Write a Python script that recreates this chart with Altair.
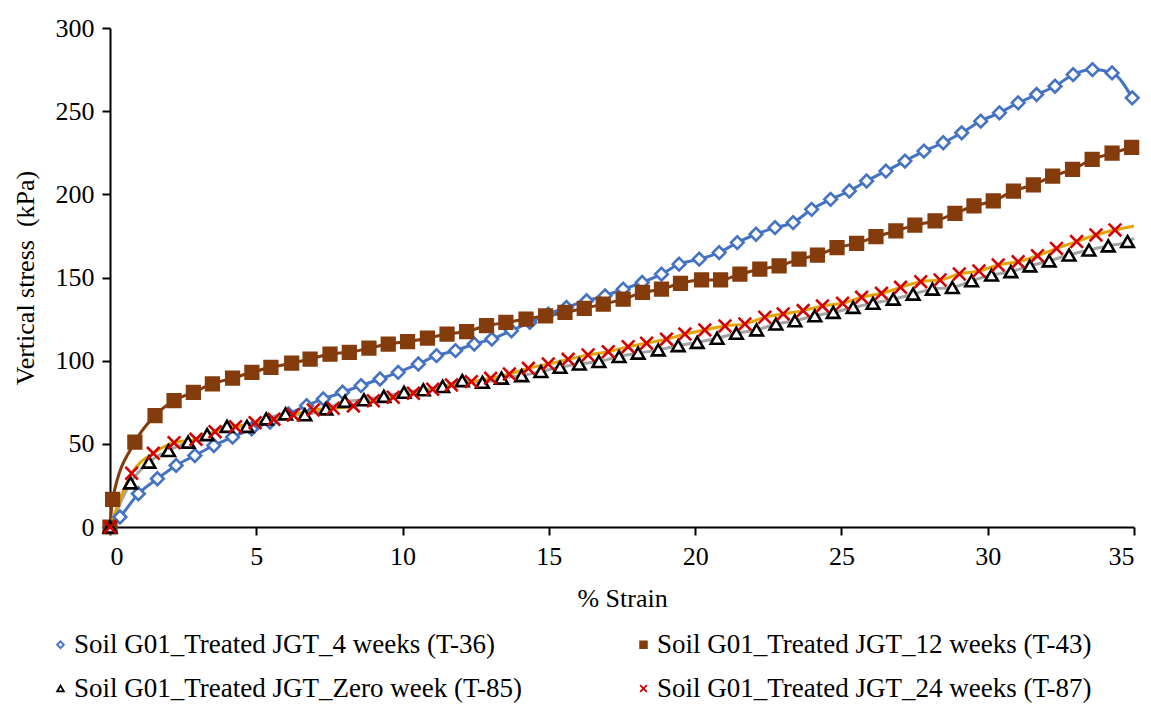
import altair as alt
import pandas as pd

series_names = [
    "Soil G01_Treated JGT_4 weeks (T-36)",
    "Soil G01_Treated JGT_12 weeks (T-43)",
    "Soil G01_Treated JGT_Zero week (T-85)",
    "Soil G01_Treated JGT_24 weeks (T-87)",
]
# legend lays entries out column by column: this order gives rows T-36/T-43 and T-85/T-87
legend_order = [series_names[0], series_names[2], series_names[1], series_names[3]]

# T-36 (blue diamonds)
t36_x = [0, 0.34, 0.97, 1.62, 2.26, 2.9, 3.55, 4.19, 4.84, 5.47, 6.1, 6.72, 7.29, 7.95, 8.58,
         9.23, 9.85, 10.54, 11.16, 11.81, 12.45, 13.05, 13.72, 14.35, 14.98, 15.6, 16.29, 16.92,
         17.54, 18.19, 18.85, 19.45, 20.14, 20.82, 21.44, 22.08, 22.73, 23.35, 23.98, 24.63,
         25.27, 25.86, 26.52, 27.17, 27.82, 28.48, 29.11, 29.76, 30.4, 31.04, 31.67, 32.3,
         32.92, 33.58, 34.25, 34.94]
t36_y = [0, 6, 20, 29, 37, 43, 49, 54, 59, 63, 68, 73, 77, 81, 85, 89, 93, 98, 103, 106, 110,
         113, 118, 123, 128, 132, 136, 139, 143, 147, 152, 158, 161, 165, 171, 176, 180, 183,
         191, 197, 202, 208, 214, 220, 226, 231, 237, 244, 249, 255, 260, 265, 272, 275, 273, 258]

# T-43 (brown squares)
t43_x = [0, 0.09, 0.85, 1.54, 2.19, 2.85, 3.5, 4.19, 4.85, 5.5, 6.21, 6.84, 7.52, 8.18, 8.85,
         9.51, 10.17, 10.85, 11.52, 12.19, 12.87, 13.53, 14.22, 14.89, 15.55, 16.21, 16.86,
         17.54, 18.2, 18.85, 19.5, 20.22, 20.87, 21.53, 22.21, 22.87, 23.55, 24.18, 24.85,
         25.52, 26.18, 26.86, 27.51, 28.2, 28.88, 29.53, 30.19, 30.88, 31.56, 32.22, 32.9,
         33.57, 34.25, 34.92]
t43_y = [0, 16.6, 51, 67, 76, 81, 86, 89.5, 93, 96, 98.5, 101, 104, 105, 107.5, 110, 111.5,
         113.5, 116, 117.5, 121, 123, 125, 127, 129, 131.5, 134, 137, 141, 143, 146.5, 148.5,
         148.5, 152, 155, 157, 161, 163.5, 168, 170.5, 174.5, 178, 181.5, 184, 188.5, 193, 196,
         202, 205.7, 211, 215, 221, 224.7, 228.3]

# T-85 (black open triangles, grey line)
t85_x = [0, 0.7, 1.33, 2.0, 2.67, 3.32, 4.0, 4.68, 5.34, 6.0, 6.66, 7.38, 8.03, 8.68, 9.36,
         10.05, 10.71, 11.37, 12.04, 12.73, 13.38, 14.07, 14.73, 15.38, 16.04, 16.71, 17.4,
         18.05, 18.74, 19.42, 20.07, 20.75, 21.41, 22.1, 22.76, 23.41, 24.09, 24.72, 25.4,
         26.08, 26.77, 27.45, 28.11, 28.79, 29.45, 30.13, 30.79, 31.44, 32.1, 32.78, 33.46,
         34.12, 34.78]
t85_y = [0, 26.5, 39, 46, 51, 55.5, 60.5, 60.5, 65, 68, 67.5, 71, 75.5, 76.5, 78.5, 81, 82.5,
         84.5, 88, 87, 89.5, 91, 93.5, 96, 98, 99.5, 102.5, 104.5, 106.5, 109, 111, 113.5, 116.5,
         118.5, 122, 124, 127, 129, 132, 134.5, 137, 140, 143, 144, 148, 151.5, 153.5, 157, 160,
         163.5, 166.5, 169, 171.6]
t85_line_end_x = 35.0
t85_line_end_y = 173.6

# T-87 (red crosses, gold line)
t87_x = [0, 0.74, 1.48, 2.19, 2.94, 3.59, 4.29, 4.96, 5.6, 6.26, 6.95, 7.63, 8.32, 9.0, 9.68,
         10.37, 11.03, 11.67, 12.35, 13.01, 13.65, 14.3, 14.98, 15.66, 16.34, 17.03, 17.71,
         18.34, 19.02, 19.65, 20.33, 21.02, 21.7, 22.38, 23.01, 23.69, 24.35, 25.04, 25.69,
         26.37, 27.02, 27.71, 28.37, 29.03, 29.7, 30.36, 31.04, 31.7, 32.35, 33.04, 33.7, 34.35]
t87_y = [0, 32.3, 44.3, 50.7, 52.7, 57.3, 60.3, 62.7, 64.8, 67.4, 70.4, 71.4, 72.8, 75.9, 78,
         80.4, 82.8, 85.4, 87.4, 89.4, 92, 95.4, 98, 100.8, 103.4, 105.4, 108.4, 110.5, 112.9,
         116, 118.5, 120.9, 122.1, 126.1, 128.1, 130.1, 132.9, 134.5, 138.1, 140.5, 144.1,
         147.5, 148.5, 152.1, 153.9, 157.5, 159.5, 163.1, 167.5, 171.6, 175.6, 178.6]
t87_line_end_x = 35.0
t87_line_end_y = 181.0

X_PATH = "M-1,-1L1,1M1,-1L-1,1"
# styles in legend_order: T-36, T-85, T-43, T-87
marker_stroke = ["#4472C4", "#000000", "#843C0C", "#D40000"]
marker_fill = ["#FFFFFF", "#FFFFFF", "#843C0C", "transparent"]
marker_shapes = ["diamond", "triangle-up", "square", X_PATH]
line_keys = ["L36", "L43", "L85", "L87"]
line_colors = ["#4472C4", "#843C0C", "#A5A5A5", "#E6A400"]

pts = []
lines = []
for name, key, xs, ys, ext in [
    (series_names[0], line_keys[0], t36_x, t36_y, None),
    (series_names[1], line_keys[1], t43_x, t43_y, None),
    (series_names[2], line_keys[2], t85_x, t85_y, (t85_line_end_x, t85_line_end_y)),
    (series_names[3], line_keys[3], t87_x, t87_y, (t87_line_end_x, t87_line_end_y)),
]:
    for x, y in zip(xs, ys):
        pts.append({"series": name, "strain": x, "stress": y})
        lines.append({"line": key, "strain": x, "stress": y})
    if ext is not None:
        lines.append({"line": key, "strain": ext[0], "stress": ext[1]})

pts_df = pd.DataFrame(pts)
lines_df = pd.DataFrame(lines)

FONT = "Liberation Serif"
FS = 26
LFS = 27

x_enc = alt.X("strain:Q", scale=alt.Scale(domain=[0, 35], nice=False, zero=True),
              axis=alt.Axis(title="% Strain", values=list(range(0, 36, 5)), titlePadding=16))
y_enc = alt.Y("stress:Q", scale=alt.Scale(domain=[0, 300], nice=False),
              axis=alt.Axis(title="Vertical stress\u00a0 (kPa)", values=list(range(0, 301, 50)),
                            titlePadding=17))

line_layer = alt.Chart(lines_df).mark_line(interpolate="monotone", strokeWidth=3).encode(
    x=x_enc, y=y_enc,
    color=alt.Color("line:N", scale=alt.Scale(domain=line_keys, range=line_colors), legend=None),
)

leg = alt.Legend(
    title=None, orient="none", legendX=-63, legendY=603, columns=2, columnPadding=108,
    rowPadding=16, labelFont=FONT, labelFontSize=LFS, labelColor="#000000", labelOffset=0,
    symbolSize=45, symbolStrokeWidth=1.8, padding=0, labelLimit=700,
)

point_layer = alt.Chart(pts_df).mark_point(size=160, strokeWidth=2.6, opacity=1).encode(
    x=x_enc, y=y_enc,
    shape=alt.Shape("series:N", scale=alt.Scale(domain=legend_order, range=marker_shapes), legend=leg),
    stroke=alt.Stroke("series:N", scale=alt.Scale(domain=legend_order, range=marker_stroke), legend=leg),
    fill=alt.Fill("series:N", scale=alt.Scale(domain=legend_order, range=marker_fill), legend=leg),
)

chart = alt.layer(line_layer, point_layer).properties(
    width=1024, height=499,
    autosize=alt.AutoSizeParams(type="none"),
    padding={"left": 102, "top": 20, "right": 9, "bottom": 190},
).configure(font=FONT).configure_view(stroke=None).configure_axis(
    grid=False,
    domainColor="#000000", domainWidth=2,
    tickColor="#000000", tickWidth=2, tickSize=8,
    labelFont=FONT, labelFontSize=FS, labelColor="#000000", labelPadding=8,
    titleFont=FONT, titleFontSize=FS, titleColor="#000000", titleFontWeight="normal",
).configure_legend(
    labelFont=FONT, labelFontSize=LFS, labelColor="#000000",
)

chart.save("out.html", embed_options={"renderer": "svg", "actions": False})
